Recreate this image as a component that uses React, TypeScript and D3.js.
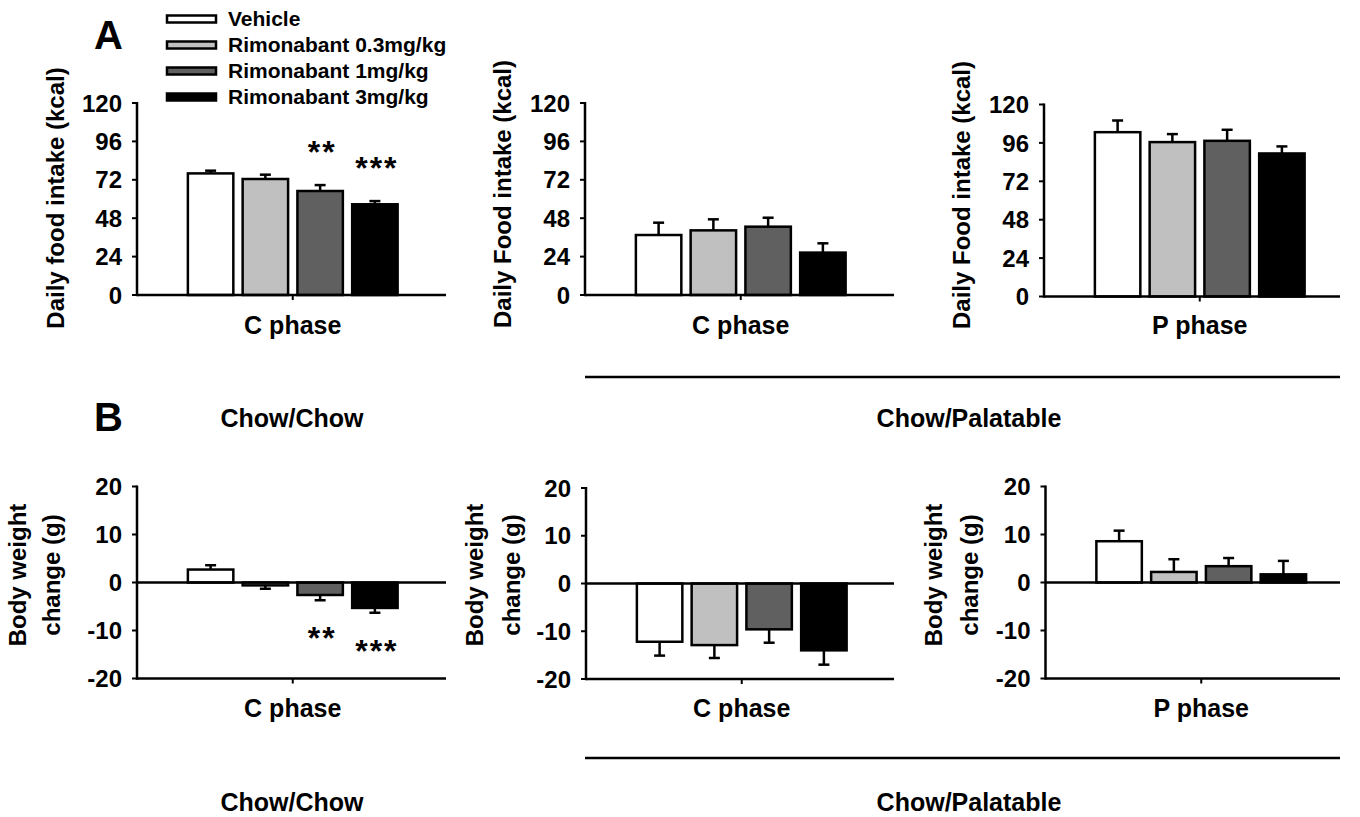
import React from "react";
import * as d3 from "d3";

// ---------- data ----------
const groups = ["Vehicle", "Rimonabant 0.3mg/kg", "Rimonabant 1mg/kg", "Rimonabant 3mg/kg"];
const groupFills = ["#ffffff", "#c0c0c0", "#606060", "#000000"];

const intakeTicks = [0, 24, 48, 72, 96, 120];
const bodyTicks = [-20, -10, 0, 10, 20];

const intakeChowC = [76, 72.5, 65, 56.7];
const intakeChowCErr = [1.7, 2.7, 3.7, 2.0];
const intakePalC = [37.5, 40.4, 42.7, 26.5];
const intakePalCErr = [7.7, 6.9, 5.6, 5.8];
const intakePalP = [102.7, 96.5, 97.3, 89.4];
const intakePalPErr = [7.3, 5.0, 6.9, 4.4];

const bodyChowC = [2.7, -0.6, -2.6, -5.3];
const bodyChowCErr = [0.9, 0.7, 1.1, 1.0];
const bodyPalC = [-12.2, -12.9, -9.6, -14.0];
const bodyPalCErr = [2.9, 2.7, 2.8, 3.0];
const bodyPalP = [8.6, 2.2, 3.4, 1.7];
const bodyPalPErr = [2.2, 2.65, 1.7, 2.8];

const intakeStars = ["", "", "**", "***"];
const bodyStars = ["", "", "**", "***"];

const FONT = "'Liberation Sans', Arial, Helvetica, sans-serif";

type PanelProps = {
  axisX: number;
  yTop: number;
  yBottom: number;
  xEnd: number;
  domain: [number, number];
  ticks: number[];
  values: number[];
  errors: number[];
  stars?: string[];
  starsBelow?: boolean;
  ylabel: string[];
  ylabelOffsets: number[];
  ylabelCenter: number;
  phase: string;
  phaseY: number;
};

function Panel(p: PanelProps) {
  const y = d3.scaleLinear().domain(p.domain).range([p.yBottom, p.yTop]);
  const x = d3
    .scaleBand<string>()
    .domain(groups)
    .range([p.axisX + 46.5, p.axisX + 265])
    .paddingInner(0.17)
    .paddingOuter(0.08);
  const zeroY = y(0);
  const hasNeg = p.domain[0] < 0;
  const cx = p.axisX + (46.5 + 265) / 2;
  return (
    <g>
      {groups.map((g, i) => {
        const v = p.values[i];
        const e = p.errors[i];
        const bx = x(g)!;
        const bw = x.bandwidth();
        const top = Math.min(y(v), zeroY);
        const h = Math.abs(y(v) - zeroY);
        const end = v >= 0 ? y(v + e) : y(v - e);
        const barEdge = y(v);
        const mx = bx + bw / 2;
        return (
          <g key={g}>
            <line x1={mx} x2={mx} y1={barEdge} y2={end} stroke="#000" strokeWidth={2.5} />
            <line x1={mx - 5.5} x2={mx + 5.5} y1={end} y2={end} stroke="#000" strokeWidth={2.5} />
            <rect x={bx} y={top} width={bw} height={h} fill={groupFills[i]} stroke="#000" strokeWidth={2.5} />
            {p.stars && p.stars[i] ? (
              <text
                x={mx + 2}
                y={p.starsBelow ? end + 49 : end - 22}
                textAnchor="middle"
                fontFamily={FONT}
                fontWeight="bold"
                fontSize={32}
                letterSpacing={2}
              >
                {p.stars[i]}
              </text>
            ) : null}
          </g>
        );
      })}
      <line x1={p.axisX} x2={p.axisX} y1={p.yTop - 1} y2={p.yBottom + 1.2} stroke="#000" strokeWidth={2.5} />
      {p.ticks.map((t) => (
        <g key={t}>
          <line x1={p.axisX - 5} x2={p.axisX} y1={y(t)} y2={y(t)} stroke="#000" strokeWidth={2} />
          <text
            x={p.axisX - 15}
            y={y(t)}
            dy="0.36em"
            textAnchor="end"
            fontFamily={FONT}
            fontWeight="bold"
            fontSize={24}
          >
            {t}
          </text>
        </g>
      ))}
      <line x1={p.axisX} x2={p.xEnd} y1={p.yBottom} y2={p.yBottom} stroke="#000" strokeWidth={2.5} />
      <line x1={cx} x2={cx} y1={p.yBottom} y2={p.yBottom + 5} stroke="#000" strokeWidth={2} />
      {hasNeg ? (
        <line x1={p.axisX} x2={p.xEnd} y1={zeroY} y2={zeroY} stroke="#000" strokeWidth={2.5} />
      ) : null}
      {p.ylabel.map((l, i) => (
        <text
          key={l}
          transform={`translate(${p.axisX + p.ylabelOffsets[i]},${p.ylabelCenter}) rotate(-90)`}
          textAnchor="middle"
          fontFamily={FONT}
          fontWeight="bold"
          fontSize={24}
        >
          {l}
        </text>
      ))}
      <text x={cx} y={p.phaseY} textAnchor="middle" fontFamily={FONT} fontWeight="bold" fontSize={25}>
        {p.phase}
      </text>
    </g>
  );
}

export default function App() {
  const legendY = [19, 45, 71, 97];
  return (
    <svg
      width={1360}
      height={817}
      viewBox="0 0 1360 817"
      style={{ position: "absolute", left: 0, top: 0, background: "#fff" }}
    >
      <rect x={0} y={0} width={1360} height={817} fill="#fff" />
      <text x={94} y={49} fontFamily={FONT} fontWeight="bold" fontSize={40}>A</text>
      <text x={94} y={431} fontFamily={FONT} fontWeight="bold" fontSize={40}>B</text>

      {groups.map((g, i) => (
        <g key={g}>
          <rect x={167} y={legendY[i] - 3.5} width={49} height={7} fill={groupFills[i]} stroke="#000" strokeWidth={2.5} />
          <text x={228} y={legendY[i] + 7} fontFamily={FONT} fontWeight="bold" fontSize={21}>
            {g}
          </text>
        </g>
      ))}

      <Panel
        axisX={137}
        yTop={103}
        yBottom={295}
        xEnd={446}
        domain={[0, 120]}
        ticks={intakeTicks}
        values={intakeChowC}
        errors={intakeChowCErr}
        stars={intakeStars}
        ylabel={["Daily food intake (kcal)"]}
        ylabelOffsets={[-73]}
        ylabelCenter={198}
        phase="C phase"
        phaseY={334}
      />
      <Panel
        axisX={585}
        yTop={103}
        yBottom={295}
        xEnd={894}
        domain={[0, 120]}
        ticks={intakeTicks}
        values={intakePalC}
        errors={intakePalCErr}
        ylabel={["Daily Food intake (kcal)"]}
        ylabelOffsets={[-74]}
        ylabelCenter={194}
        phase="C phase"
        phaseY={334}
      />
      <Panel
        axisX={1044}
        yTop={104.5}
        yBottom={296.5}
        xEnd={1340}
        domain={[0, 120]}
        ticks={intakeTicks}
        values={intakePalP}
        errors={intakePalPErr}
        ylabel={["Daily Food intake (kcal)"]}
        ylabelOffsets={[-74]}
        ylabelCenter={195}
        phase="P phase"
        phaseY={334}
      />

      <text x={292} y={427} textAnchor="middle" fontFamily={FONT} fontWeight="bold" fontSize={25}>Chow/Chow</text>
      <line x1={585} x2={1340} y1={377} y2={377} stroke="#000" strokeWidth={2.5} />
      <text x={969} y={427} textAnchor="middle" fontFamily={FONT} fontWeight="bold" fontSize={25}>Chow/Palatable</text>

      <Panel
        axisX={137}
        yTop={486.5}
        yBottom={678.5}
        xEnd={446}
        domain={[-20, 20]}
        ticks={bodyTicks}
        values={bodyChowC}
        errors={bodyChowCErr}
        stars={bodyStars}
        starsBelow
        ylabel={["Body weight", "change (g)"]}
        ylabelOffsets={[-111, -77]}
        ylabelCenter={575}
        phase="C phase"
        phaseY={717}
      />
      <Panel
        axisX={586}
        yTop={488}
        yBottom={679}
        xEnd={894}
        domain={[-20, 20]}
        ticks={bodyTicks}
        values={bodyPalC}
        errors={bodyPalCErr}
        ylabel={["Body weight", "change (g)"]}
        ylabelOffsets={[-103, -66]}
        ylabelCenter={575}
        phase="C phase"
        phaseY={717}
      />
      <Panel
        axisX={1045.5}
        yTop={486.5}
        yBottom={678.5}
        xEnd={1340}
        domain={[-20, 20]}
        ticks={bodyTicks}
        values={bodyPalP}
        errors={bodyPalPErr}
        ylabel={["Body weight", "change (g)"]}
        ylabelOffsets={[-104, -68]}
        ylabelCenter={575}
        phase="P phase"
        phaseY={717}
      />

      <text x={292} y={811} textAnchor="middle" fontFamily={FONT} fontWeight="bold" fontSize={25}>Chow/Chow</text>
      <line x1={585} x2={1340} y1={758} y2={758} stroke="#000" strokeWidth={2.5} />
      <text x={969} y={811} textAnchor="middle" fontFamily={FONT} fontWeight="bold" fontSize={25}>Chow/Palatable</text>
    </svg>
  );
}
